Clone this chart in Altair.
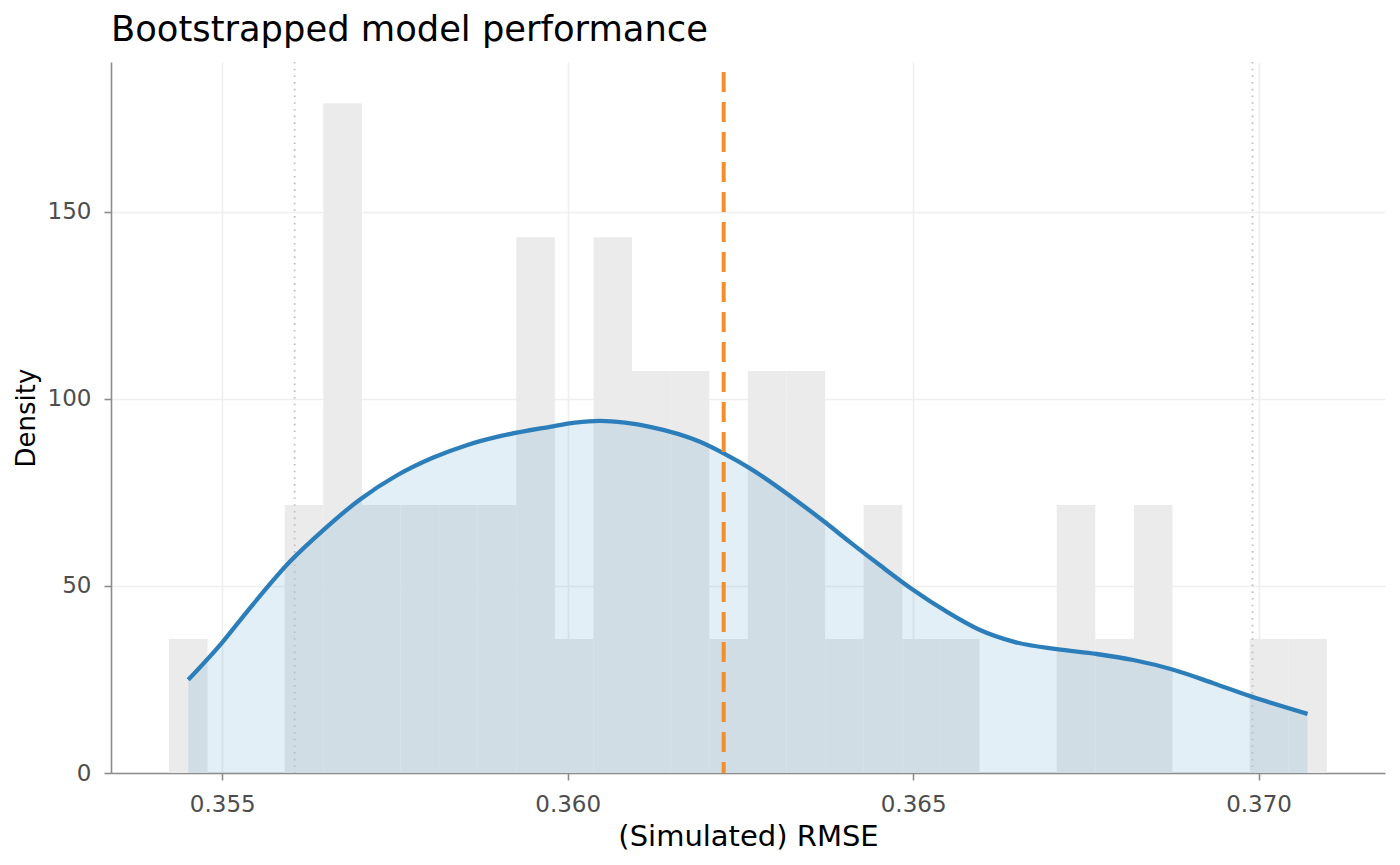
import altair as alt
import pandas as pd

# Histogram bins (left edge, right edge, density)
bin_left = [0.354228, 0.354787, 0.355345, 0.355904, 0.356463, 0.357021, 0.357580, 0.358139,
            0.358698, 0.359256, 0.359815, 0.360374, 0.360932, 0.361491, 0.362050, 0.362608,
            0.363167, 0.363726, 0.364284, 0.364843, 0.365402, 0.365960, 0.366519, 0.367078,
            0.367637, 0.368195, 0.368754, 0.369313, 0.369871, 0.370430]
bin_right = [0.354787, 0.355345, 0.355904, 0.356463, 0.357021, 0.357580, 0.358139, 0.358698,
             0.359256, 0.359815, 0.360374, 0.360932, 0.361491, 0.362050, 0.362608, 0.363167,
             0.363726, 0.364284, 0.364843, 0.365402, 0.365960, 0.366519, 0.367078, 0.367637,
             0.368195, 0.368754, 0.369313, 0.369871, 0.370430, 0.370989]
bin_density = [35.8, 0, 0, 71.6, 179.0, 71.6, 71.6, 71.6, 71.6, 143.2, 35.8, 143.2, 107.4, 107.4,
               35.8, 107.4, 107.4, 35.8, 71.6, 35.8, 35.8, 0, 0, 71.6, 35.8, 71.6, 0, 0, 35.8, 35.8]

# Density curve
curve_x = [0.354508, 0.354992, 0.355354, 0.355981, 0.356463, 0.356994, 0.357525, 0.358055,
           0.358538, 0.359020, 0.359744, 0.360106, 0.360468, 0.360830, 0.361192, 0.361915,
           0.362258, 0.362639, 0.363362, 0.363725, 0.364086, 0.364521, 0.365003, 0.365486,
           0.365968, 0.366450, 0.367078, 0.367657, 0.368187, 0.368766, 0.369345, 0.369901,
           0.370709]
curve_y = [24.9, 34.7, 43.0, 56.5, 64.9, 73.1, 79.5, 84.3,
           87.6, 90.0, 92.5, 93.6, 94.1, 93.6, 92.5, 88.5,
           85.4, 81.4, 72.1, 67.0, 61.7, 55.5, 48.9, 43.1,
           38.2, 35.1, 33.1, 31.8, 30.2, 27.6, 24.0, 20.4,
           15.8]

rmse_mean = [0.362258]
interval_bounds = [0.356048, 0.369912]

x_ticks = [0.355, 0.360, 0.365, 0.370]
y_ticks = [0, 50, 100, 150]
x_domain = [0.35339, 0.37183]
y_domain = [0, 190]

hist = pd.DataFrame({"lo": bin_left, "hi": bin_right, "d": bin_density})
hist = hist[hist["d"] > 0]
dens = pd.DataFrame({"x": curve_x, "y": curve_y})
mean_df = pd.DataFrame({"x": rmse_mean})
ci_df = pd.DataFrame({"x": interval_bounds})

FONT = "DejaVu Sans"
xscale = alt.Scale(domain=x_domain, nice=False, zero=False)
yscale = alt.Scale(domain=y_domain, nice=False, zero=False)

x_axis = alt.Axis(title="(Simulated) RMSE", values=x_ticks, format=".3f", grid=True,
                  titleX=637, titleY=49, titleBaseline="top", titleFontSize=29)
y_axis = alt.Axis(title="Density", values=y_ticks, format="d", grid=True,
                  titleX=-72, titleY=355.5, titleFontSize=26)

bars = alt.Chart(hist).mark_rect(color="#EBEBEB", strokeWidth=0).encode(
    x=alt.X("lo:Q", scale=xscale, axis=x_axis),
    x2="hi:Q",
    y=alt.Y("d:Q", scale=yscale, axis=y_axis),
    y2=alt.datum(0),
)

area = alt.Chart(dens).mark_area(color="#3C8CC4", opacity=0.14, interpolate="monotone").encode(
    x=alt.X("x:Q", scale=xscale, axis=x_axis),
    y=alt.Y("y:Q", scale=yscale, axis=y_axis),
    y2=alt.datum(0),
)

ci_rules = alt.Chart(ci_df).mark_rule(color="#BEBEBE", strokeWidth=1.8, strokeDash=[1.6, 5.1]).encode(
    x=alt.X("x:Q", scale=xscale, axis=x_axis),
)

line = alt.Chart(dens).mark_line(color="#2C7EBA", strokeWidth=4.3, interpolate="monotone").encode(
    x=alt.X("x:Q", scale=xscale, axis=x_axis),
    y=alt.Y("y:Q", scale=yscale, axis=y_axis),
)

mean_rule = alt.Chart(mean_df).mark_rule(
    color="#F28E2B", strokeWidth=4, strokeDash=[20, 10], strokeDashOffset=20
).encode(
    x=alt.X("x:Q", scale=xscale, axis=x_axis),
)

chart = alt.layer(bars, area, ci_rules, line, mean_rule).properties(
    width=1274,
    height=711,
    title=alt.TitleParams(
        text="Bootstrapped model performance",
        anchor="start", frame="group", fontSize=35.3, font=FONT,
        fontWeight="normal", color="black", baseline="bottom", offset=13, dx=0, dy=36,
    ),
    autosize=alt.AutoSizeParams(type="none"),
    padding={"left": 103, "top": 54, "right": 5, "bottom": 84},
    background="white",
).configure_view(strokeWidth=0).configure_axis(
    domainColor="#8C8C8C", domainWidth=1.6,
    tickColor="#8C8C8C", tickWidth=1.6, tickSize=7,
    gridColor="#EFEFEF", gridWidth=1.6,
    labelFont=FONT, labelFontSize=23, labelColor="#4D4D4D", labelPadding=13,
    titleFont=FONT, titleColor="black", titleFontWeight="normal",
)

chart.save("out.html", embed_options={"renderer": "svg", "actions": False})
